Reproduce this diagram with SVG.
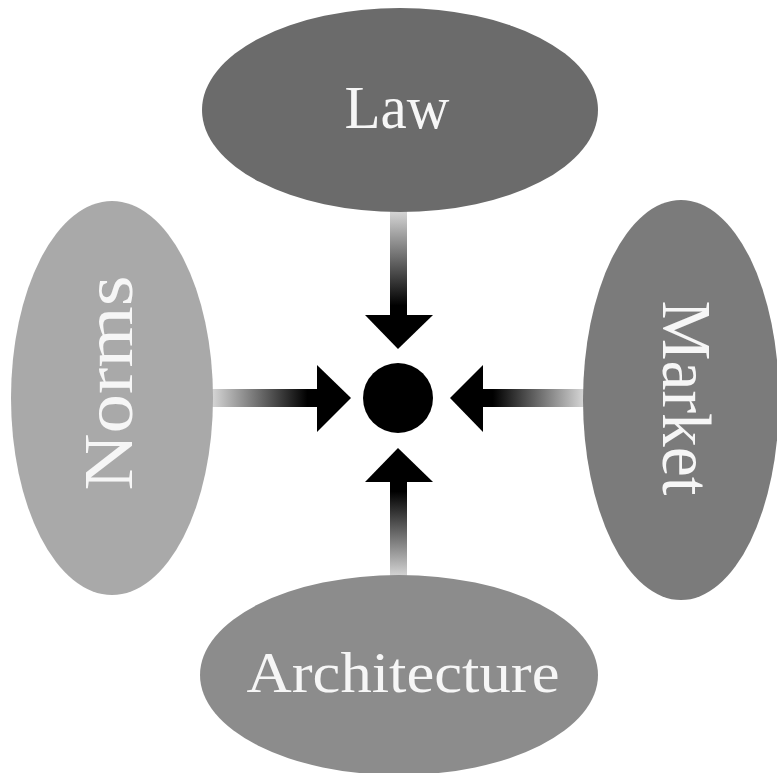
<svg xmlns="http://www.w3.org/2000/svg" width="777" height="773" viewBox="0 0 777 773">
<defs>
<style>
.lbl{font-family:"Liberation Serif","Times New Roman",serif;fill:#f6f6f6;text-anchor:middle}
.head{fill:#000}
</style>
<linearGradient id="gDown" x1="0" y1="212" x2="0" y2="316" gradientUnits="userSpaceOnUse"><stop offset="0" stop-color="#d4d4d4"/><stop offset="0.9" stop-color="#000"/></linearGradient>
<linearGradient id="gUp" x1="0" y1="576" x2="0" y2="482" gradientUnits="userSpaceOnUse"><stop offset="0" stop-color="#d4d4d4"/><stop offset="0.9" stop-color="#000"/></linearGradient>
<linearGradient id="gRight" x1="213" y1="0" x2="318" y2="0" gradientUnits="userSpaceOnUse"><stop offset="0" stop-color="#d4d4d4"/><stop offset="0.9" stop-color="#000"/></linearGradient>
<linearGradient id="gLeft" x1="583" y1="0" x2="483" y2="0" gradientUnits="userSpaceOnUse"><stop offset="0" stop-color="#d4d4d4"/><stop offset="0.9" stop-color="#000"/></linearGradient>
</defs>
<rect width="777" height="773" fill="#fff"/>
<g id="connectors">
<rect x="390" y="210" width="17" height="106" fill="url(#gDown)"/>
<polygon class="head" points="365,315 433,315 398,349"/>
<rect x="390" y="481" width="17" height="97" fill="url(#gUp)"/>
<polygon class="head" points="365,482 433,482 398,448"/>
<rect x="211" y="389" width="107" height="18" fill="url(#gRight)"/>
<polygon class="head" points="317,365 317,432 351,398"/>
<rect x="482" y="389" width="103" height="18" fill="url(#gLeft)"/>
<polygon class="head" points="483,365 483,432 450,398"/>
</g>
<g id="center"><circle cx="398" cy="398" r="35" fill="#000"/></g>
<g id="law">
<ellipse cx="400" cy="110" rx="198" ry="102" fill="#6b6b6b"/>
<text class="lbl" x="397" y="128" font-size="62" textLength="105" lengthAdjust="spacingAndGlyphs">Law</text>
</g>
<g id="norms">
<ellipse cx="112" cy="398" rx="101" ry="197" fill="#a9a9a9"/>
<text class="lbl" transform="translate(132,383) rotate(-90)" font-size="70" textLength="215" lengthAdjust="spacingAndGlyphs">Norms</text>
</g>
<g id="market">
<ellipse cx="681" cy="400" rx="98" ry="200" fill="#7b7b7b"/>
<text class="lbl" transform="translate(663,398) rotate(90)" font-size="70" textLength="195" lengthAdjust="spacingAndGlyphs">Market</text>
</g>
<g id="architecture">
<ellipse cx="399" cy="675" rx="199" ry="100" fill="#8c8c8c"/>
<text class="lbl" x="403" y="692" font-size="56" textLength="313" lengthAdjust="spacingAndGlyphs">Architecture</text>
</g>
</svg>
